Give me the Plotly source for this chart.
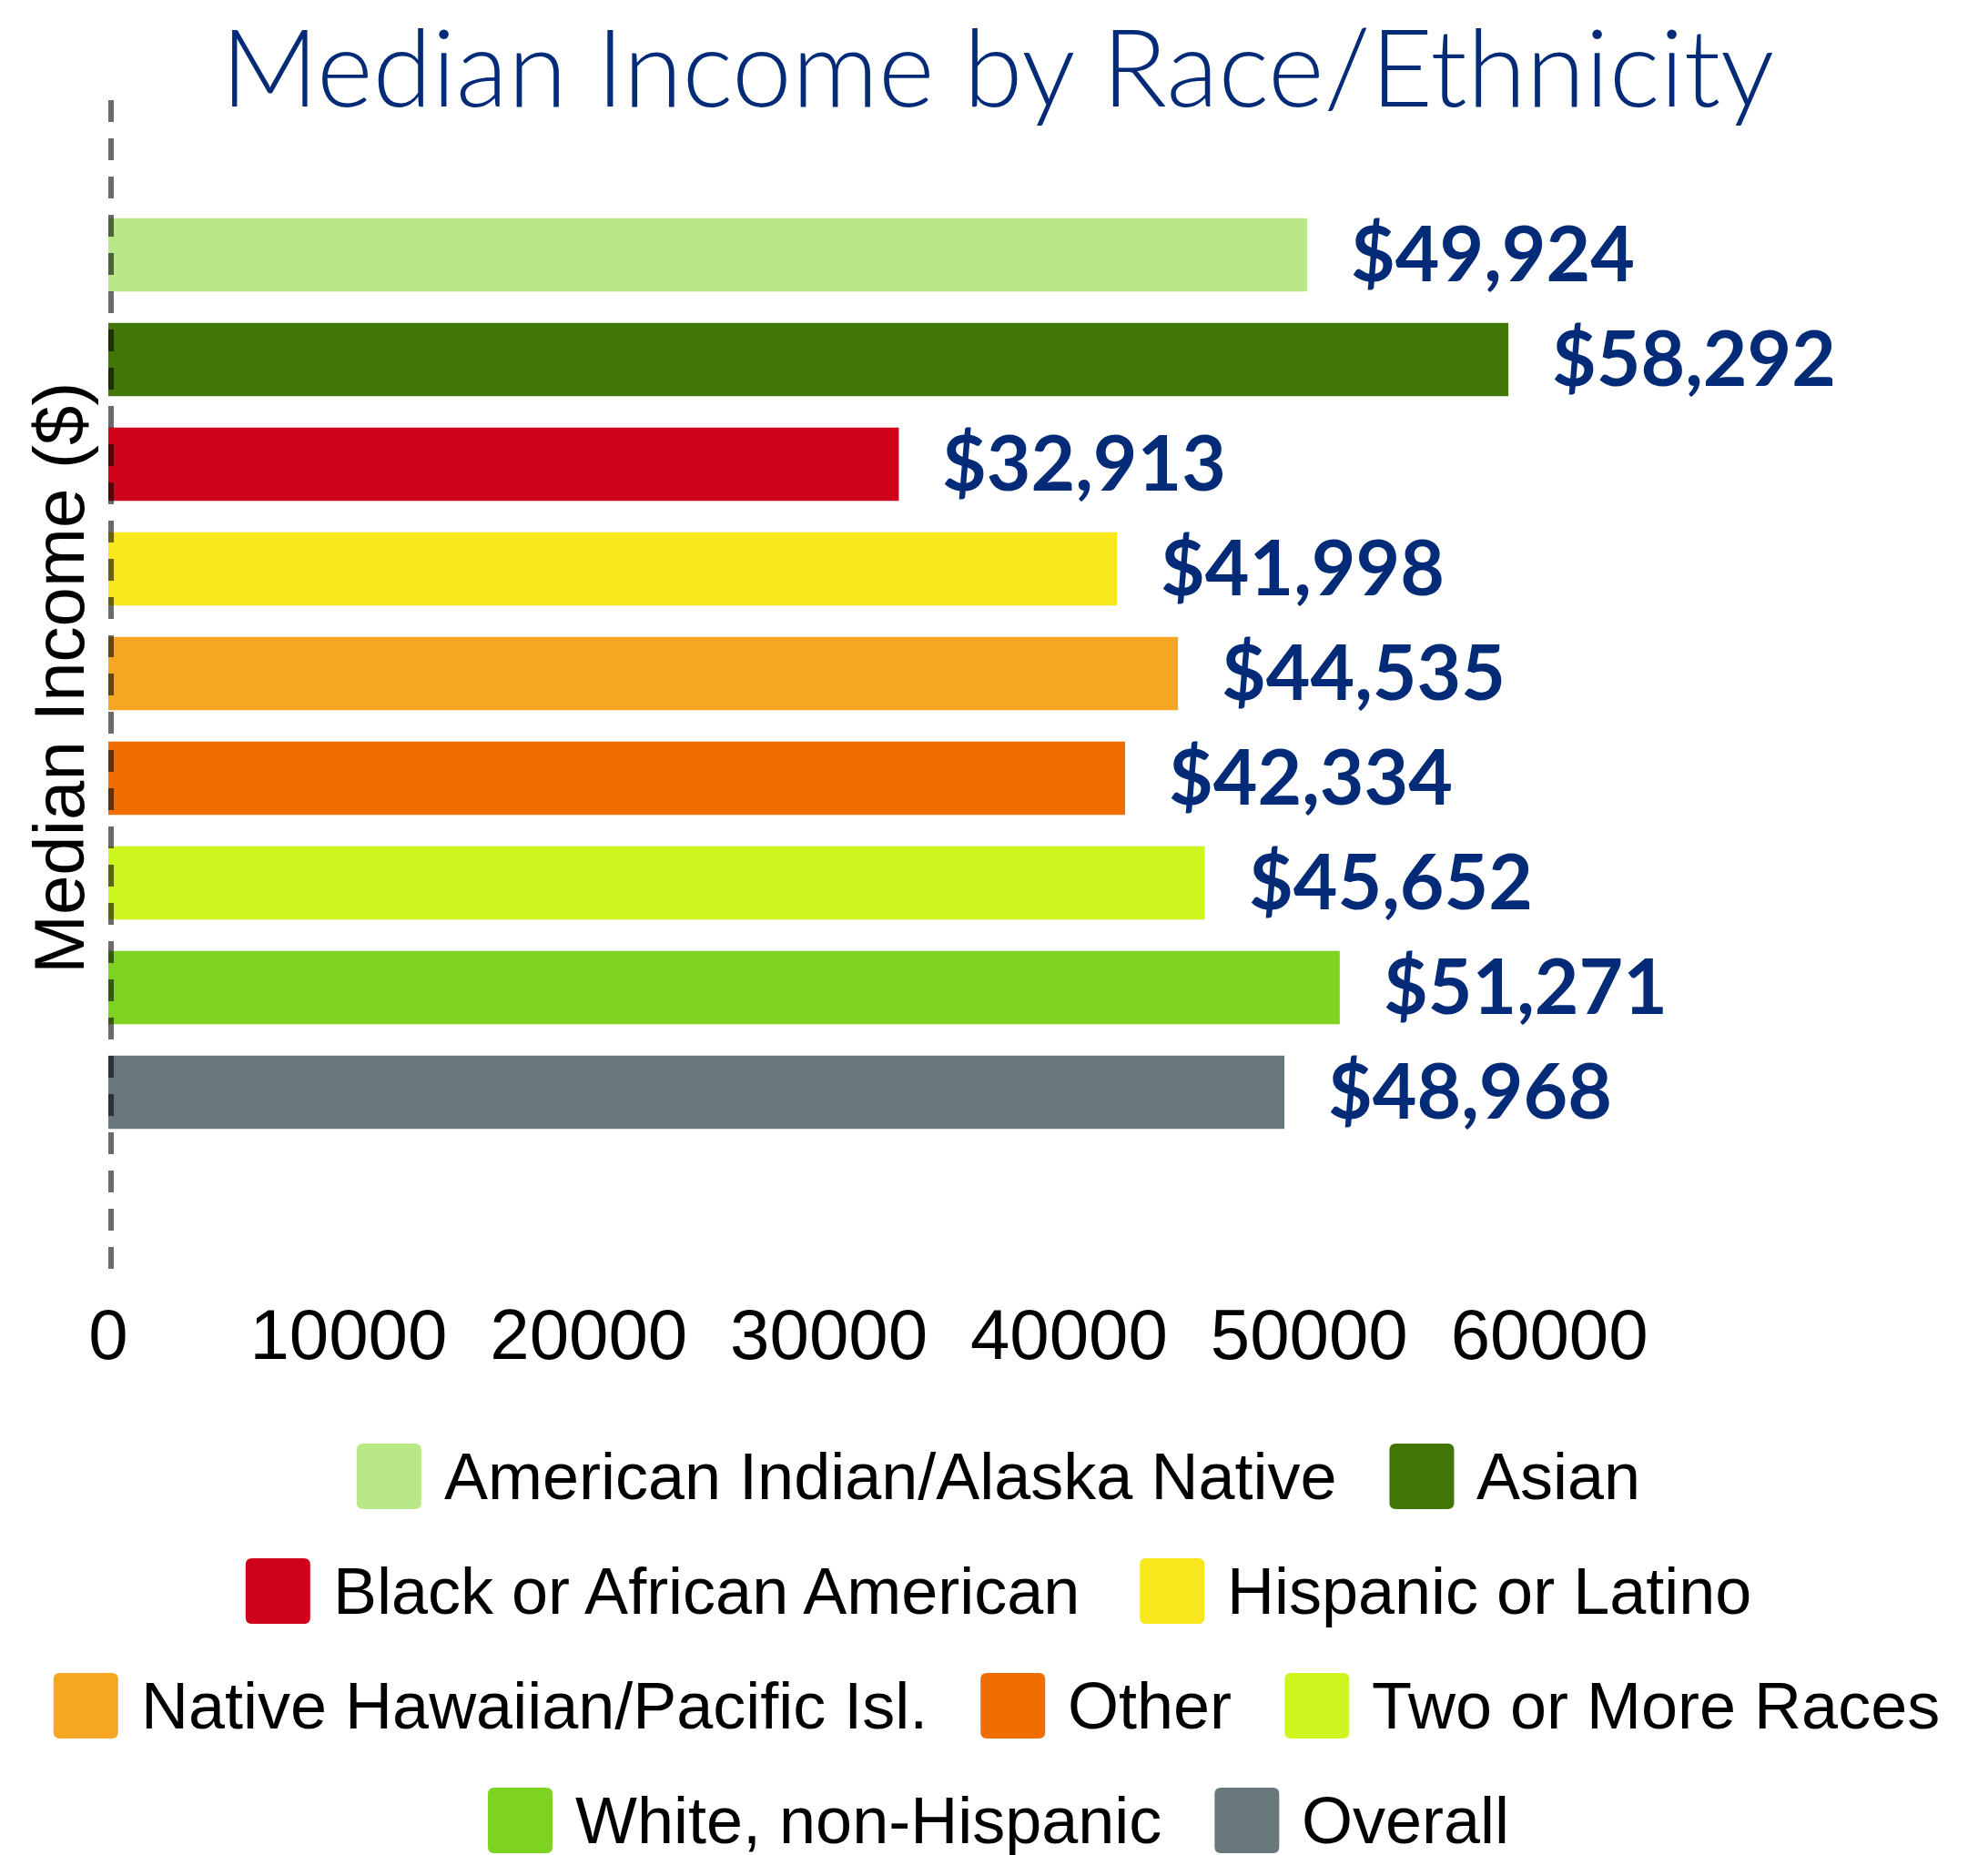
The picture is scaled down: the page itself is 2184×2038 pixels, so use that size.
import plotly.graph_objects as go

# ---------------- data ----------------
categories = [
    "American Indian/Alaska Native",
    "Asian",
    "Black or African American",
    "Hispanic or Latino",
    "Native Hawaiian/Pacific Isl.",
    "Other",
    "Two or More Races",
    "White, non-Hispanic",
    "Overall",
]
incomes = [49924, 58292, 32913, 41998, 44535, 42334, 45652, 51271, 48968]
colors = ["#B8E986", "#417505", "#D0021B", "#F8E71C", "#F5A623",
          "#F06D00", "#CCF61E", "#7ED321", "#687779"]
x_ticks = [0, 10000, 20000, 30000, 40000, 50000, 60000]
legend_rows = [[0, 1], [2, 3], [4, 5, 6], [7, 8]]

title_text = "Median Income by Race/Ethnicity"
y_title = "Median Income ($)"

# ---------------- layout constants ----------------
OFF = 8                      # default body margin of the html page
W, H = 2184 - OFF, 2038 - OFF
L, T = 119 - OFF, 110 - OFF  # plot area top-left (figure coords)
X_MAX = 70000
PX_PER_UNIT = 0.02638
PW = X_MAX * PX_PER_UNIT
PH = 1394 - 110
R = W - L - PW
B = H - T - PH
NAVY = "#032B77"
SANS = "Liberation Sans, Arial, sans-serif"
LATO = "Lato, sans-serif"


def px_x(page_x):
    return (page_x - OFF - L) / PW


def px_y(page_y):
    return (T + PH - (page_y - OFF)) / PH


# Arial / Liberation Sans advance widths (per 1000 em)
AW = {' ': 278, 'A': 667, 'B': 667, 'H': 722, 'I': 278, 'L': 556, 'M': 833,
      'N': 722, 'O': 778, 'P': 667, 'R': 722, 'T': 611, 'W': 944, 'a': 556,
      'c': 500, 'd': 556, 'e': 556, 'f': 278, 'h': 556, 'i': 222, 'k': 500,
      'l': 222, 'm': 833, 'n': 556, 'o': 556, 'p': 556, 'r': 333, 's': 500,
      't': 278, 'v': 500, 'w': 722, ',': 278, '-': 333, '.': 278, '/': 278}


def text_w(s, size):
    return sum(AW.get(c, 556) for c in s) * size / 1000.0


fig = go.Figure()
fig.add_trace(go.Bar(
    x=incomes, y=categories, orientation="h",
    marker=dict(color=colors, line=dict(width=0)),
    showlegend=False, hoverinfo="x+y",
))

# value labels
annotations = []
for cat, v in zip(categories, incomes):
    annotations.append(dict(
        x=v, y=cat, xref="x", yref="y", text=f"${v:,}", showarrow=False,
        xanchor="left", yanchor="middle", xshift=46, yshift=3,
        font=dict(family=LATO, size=84, color=NAVY, weight="bold"),
    ))

# y axis title
annotations.append(dict(
    x=px_x(65), y=px_y(745), xref="paper", yref="paper", text=y_title,
    showarrow=False, textangle=-90, xanchor="center", yanchor="middle",
    font=dict(family=SANS, size=78, color="black"),
))

# custom legend (large rounded swatches)
LEG_FONT = 72
SW, SH, RAD = 71, 72, 7
GAP_ST, GAP_ITEM = 23, 60
ROW_Y0, ROW_DY = 1622, 126      # page coords
CENTER = 1096                   # page coords
shapes = []
for r, row in enumerate(legend_rows):
    widths = [SW + GAP_ST + text_w(categories[i], LEG_FONT) for i in row]
    total = sum(widths) + GAP_ITEM * (len(row) - 1)
    cx = CENTER - total / 2
    cy = ROW_Y0 + r * ROW_DY
    for i, w in zip(row, widths):
        hx, hy = SW / 2, SH / 2
        path = (f"M {-hx + RAD},{-hy} L {hx - RAD},{-hy} Q {hx},{-hy} {hx},{-hy + RAD} "
                f"L {hx},{hy - RAD} Q {hx},{hy} {hx - RAD},{hy} L {-hx + RAD},{hy} "
                f"Q {-hx},{hy} {-hx},{hy - RAD} L {-hx},{-hy + RAD} Q {-hx},{-hy} {-hx + RAD},{-hy} Z")
        shapes.append(dict(
            type="path", xref="paper", yref="paper",
            xsizemode="pixel", ysizemode="pixel",
            xanchor=px_x(cx + hx), yanchor=px_y(cy),
            path=path, fillcolor=colors[i], line=dict(width=0), layer="above",
        ))
        annotations.append(dict(
            x=px_x(cx + SW + GAP_ST), y=px_y(cy), xref="paper", yref="paper",
            text=categories[i], showarrow=False, xanchor="left", yanchor="middle",
            font=dict(family=SANS, size=LEG_FONT, color="black"),
        ))
        cx += w + GAP_ITEM

# dashed axis line next to x = 0 (drawn over the bars)
shapes.append(dict(
    type="line", xref="paper", yref="paper", x0=px_x(122), x1=px_x(122), y0=1, y1=0,
    line=dict(color="rgba(0,0,0,0.58)", width=6, dash="24px,18px"),
    layer="above",
))

fig.update_layout(
    template="none",
    width=W, height=H,
    margin=dict(l=L, r=R, t=T, b=B, autoexpand=False),
    paper_bgcolor="white", plot_bgcolor="white",
    bargap=0.3,
    title=dict(
        text=title_text, x=(1096 - OFF) / W, xanchor="center", xref="container",
        y=1 - (76 - OFF) / H, yanchor="middle", yref="container",
        font=dict(family=LATO, size=118, color=NAVY, weight=300),
    ),
    xaxis=dict(
        range=[0, X_MAX], tickvals=x_ticks, tickformat="d",
        showgrid=False, zeroline=False, showline=False, ticks="",
        tickfont=dict(family=SANS, size=78, color="black"),
        ticklabelstandoff=20, fixedrange=True,
    ),
    yaxis=dict(
        categoryorder="array", categoryarray=categories,
        range=[9.687, -1.478], showticklabels=False,
        showgrid=False, zeroline=False, showline=False, ticks="",
        fixedrange=True,
    ),
    annotations=annotations,
    shapes=shapes,
    showlegend=False,
)

fig.write_html("out.html")
